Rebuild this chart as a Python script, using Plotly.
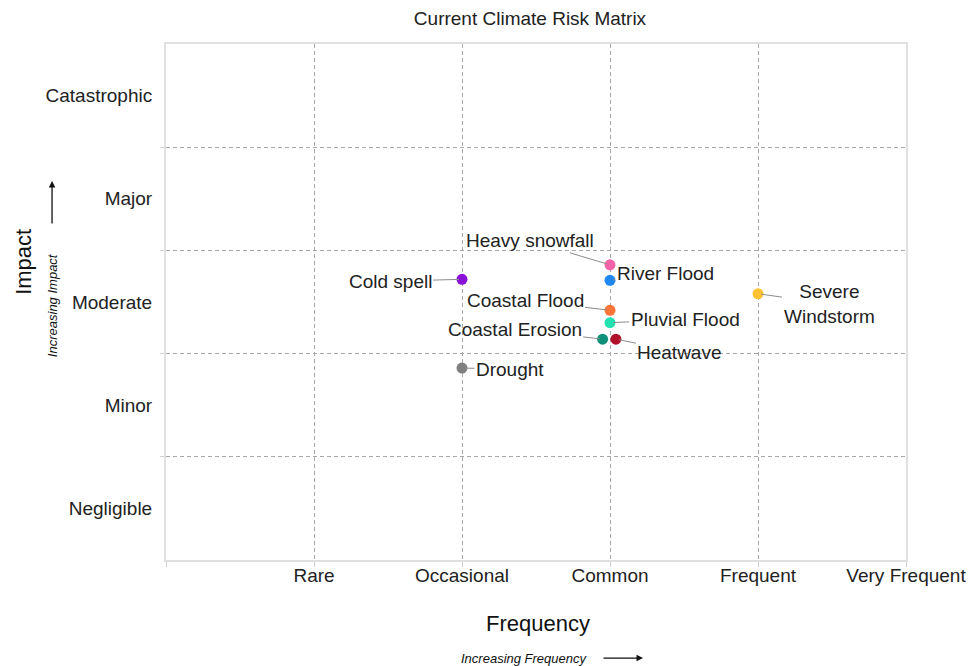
import plotly.graph_objects as go

freq_labels = ["", "Rare", "Occasional", "Common", "Frequent", "Very Frequent"]
freq_ticks = [0, 1, 2, 3, 4, 5]
impact_labels = ["Negligible", "Minor", "Moderate", "Major", "Catastrophic"]
impact_ticks = [0.5, 1.5, 2.5, 3.5, 4.5]

risks = ["Cold spell", "Drought", "Heavy snowfall", "River Flood", "Coastal Flood",
         "Pluvial Flood", "Coastal Erosion", "Heatwave", "Severe<br>Windstorm"]
freq_vals = [2.0, 2.0, 3.0, 3.0, 3.0, 3.0, 2.95, 3.04, 4.0]
impact_vals = [2.72, 1.86, 2.86, 2.71, 2.42, 2.30, 2.14, 2.14, 2.58]
colors = ["#8A10D8", "#808080", "#F462A8", "#1E88F0", "#FF7538",
          "#22E2B2", "#0F9078", "#B0102A", "#FFC233"]
label_dx = [-72, 48, -80, 55, -85, 75, -88, 64, 71]
label_dy = [2, 1, -24, -7, -10, -3, -10, 13, 10]

FONT = "Liberation Sans, Arial, sans-serif"

fig = go.Figure()
fig.add_trace(go.Scatter(
    x=freq_vals, y=impact_vals, mode="markers",
    marker=dict(size=11, color=colors, line=dict(width=0)),
    hovertext=risks, hoverinfo="text", showlegend=False,
))

for name, xv, yv, dx, dy in zip(risks, freq_vals, impact_vals, label_dx, label_dy):
    fig.add_annotation(
        x=xv, y=yv, xref="x", yref="y", text=name, showarrow=True,
        ax=dx, ay=dy, arrowhead=0, arrowwidth=1, arrowcolor="#8c8c8c",
        standoff=3, font=dict(size=19, color="#222222", family=FONT),
    )

# axis titles and direction hints
common = dict(xref="paper", yref="paper", xanchor="center", yanchor="middle", showarrow=False)
fig.add_annotation(x=-0.1935, y=0.5775, text="Impact", textangle=-90,
                   font=dict(size=22, color="#111111", family=FONT), **common)
fig.add_annotation(x=-0.154, y=0.494, text="<i>Increasing Impact</i>", textangle=-90,
                   font=dict(size=13, color="#111111", family=FONT), **common)
fig.add_annotation(x=0.5027, y=-0.124, text="Frequency",
                   font=dict(size=22, color="#111111", family=FONT), **common)
fig.add_annotation(x=0.485, y=-0.19, text="<i>Increasing Frequency</i>",
                   font=dict(size=13, color="#111111", family=FONT), **common)
fig.add_annotation(x=-0.154, y=0.7345, xref="paper", yref="paper", text="", showarrow=True,
                   ax=0, ay=44, arrowhead=2, arrowsize=1, arrowwidth=1.3, arrowcolor="#111111")
fig.add_annotation(x=0.6446, y=-0.19, xref="paper", yref="paper", text="", showarrow=True,
                   ax=-41, ay=0, arrowhead=2, arrowsize=1, arrowwidth=1.3, arrowcolor="#111111")

fig.update_layout(
    width=973, height=666,
    margin=dict(l=166, r=67, t=44, b=106, autoexpand=False),
    paper_bgcolor="white", plot_bgcolor="white",
    font=dict(family=FONT, color="#222222"),
    title=dict(text="Current Climate Risk Matrix", x=0.5447, xref="container",
               y=0.973, yref="container", yanchor="middle", xanchor="center",
               font=dict(size=19, color="#222222", family=FONT)),
    xaxis=dict(
        range=[0, 5], tickvals=freq_ticks, ticktext=freq_labels, automargin=False,
        showgrid=True, gridcolor="#a8a8a8", griddash="4px,3px", gridwidth=1,
        ticks="outside", ticklen=5, tickcolor="#d0d0d0", ticklabelstandoff=-8,
        showline=True, linecolor="#e0e0e0", linewidth=2, mirror=True,
        zeroline=False, tickfont=dict(size=19, color="#222222"), fixedrange=True,
    ),
    yaxis=dict(
        range=[0, 5], tickvals=impact_ticks, ticktext=impact_labels, automargin=False,
        showgrid=False, ticks="", ticklabelstandoff=8,
        minor=dict(tickvals=[1, 2, 3, 4], showgrid=True, gridcolor="#a8a8a8",
                   griddash="4px,3px", gridwidth=1, ticks="outside", ticklen=4,
                   tickcolor="#d0d0d0"),
        showline=True, linecolor="#e0e0e0", linewidth=2, mirror=True,
        zeroline=False, tickfont=dict(size=19, color="#222222"), fixedrange=True,
    ),
)

fig.write_html(
    "out.html",
    config={"responsive": False, "displayModeBar": False},
    post_script="document.body.style.margin='0';document.body.style.overflow='hidden';",
)
